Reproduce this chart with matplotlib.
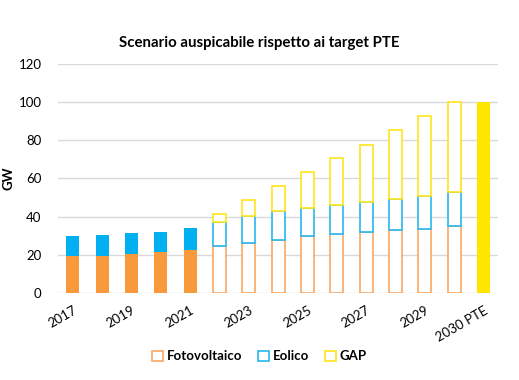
import matplotlib
matplotlib.use("Agg")
import matplotlib.pyplot as plt
from matplotlib.patches import Patch
import numpy as np

plt.rcParams['font.family'] = ['Lato', 'DejaVu Sans']

categories = ["2017", "2018", "2019", "2020", "2021", "2022", "2023", "2024",
              "2025", "2026", "2027", "2028", "2029", "2030", "2030 PTE"]
fotovoltaico = [19.5, 19.5, 20.6, 21.3, 22.3, 24.4, 26.2, 27.8, 29.7, 30.7, 31.8, 33.0, 33.7, 34.9, 0]
eolico = [10.2, 10.9, 11.0, 10.8, 11.6, 12.6, 13.9, 15.0, 15.0, 15.6, 16.1, 16.4, 17.3, 17.8, 0]
gap = [0, 0, 0, 0, 0, 4.4, 8.8, 13.0, 18.7, 24.5, 29.8, 35.8, 41.9, 47.3, 100]
solid = [True] * 5 + [False] * 9 + [True]

series = [("Fotovoltaico", fotovoltaico, "#F89A3C", "#F9A863"),
          ("Eolico", eolico, "#00B0F0", "#28B8EE"),
          ("GAP", gap, "#FFE500", "#FFE51A")]

fig = plt.figure(figsize=(5.19, 3.80), dpi=100)
ax = fig.add_axes([0.112, 0.229, 0.848, 0.603])

x = np.arange(len(categories))
bottom = np.zeros(len(categories))
for name, vals, fill, edge in series:
    vals = np.array(vals, dtype=float)
    for i in range(len(categories)):
        if vals[i] <= 0:
            continue
        if solid[i]:
            ax.bar(x[i], vals[i], 0.45, bottom=bottom[i], color=fill, edgecolor='none', zorder=3)
        else:
            ax.bar(x[i], vals[i], 0.45, bottom=bottom[i], facecolor='white', edgecolor=edge,
                   linewidth=1.2, zorder=3)
    bottom += vals

ax.set_xlim(-0.5, len(categories) - 0.5)
ax.set_ylim(0, 120)
ax.set_yticks(np.arange(0, 121, 20))
ax.yaxis.grid(True, color='#D9D9D9', linewidth=1.0, zorder=0)
ax.set_axisbelow(True)
for s in ax.spines.values():
    s.set_visible(False)
ax.tick_params(axis='both', length=0, labelsize=9.5, colors='#000000')
ax.tick_params(axis='y', pad=12)

ticks = x[::2]
ax.set_xticks(ticks)
ax.set_xticklabels([categories[i] for i in ticks], rotation=30, ha='right',
                   rotation_mode='anchor')
ax.tick_params(axis='x', pad=8)

ax.set_ylabel("GW", fontsize=9.5, fontweight='bold')
ax.yaxis.set_label_coords(-0.098, 0.5)
fig.text(0.5, 0.888, "Scenario auspicabile rispetto ai target PTE", ha='center',
         va='center', fontsize=10.8, fontweight='bold')

handles = [Patch(facecolor='white', edgecolor=edge, linewidth=1.2, label=name)
           for name, _, _, edge in series]
fig.legend(handles=handles, loc='center', bbox_to_anchor=(0.5, 0.062), ncol=3,
           frameon=False, handlelength=0.8, handleheight=0.8,
           handletextpad=0.3, columnspacing=1.2, prop={'weight': 'bold', 'size': 9.5})

fig.savefig("out.png", dpi=100)
